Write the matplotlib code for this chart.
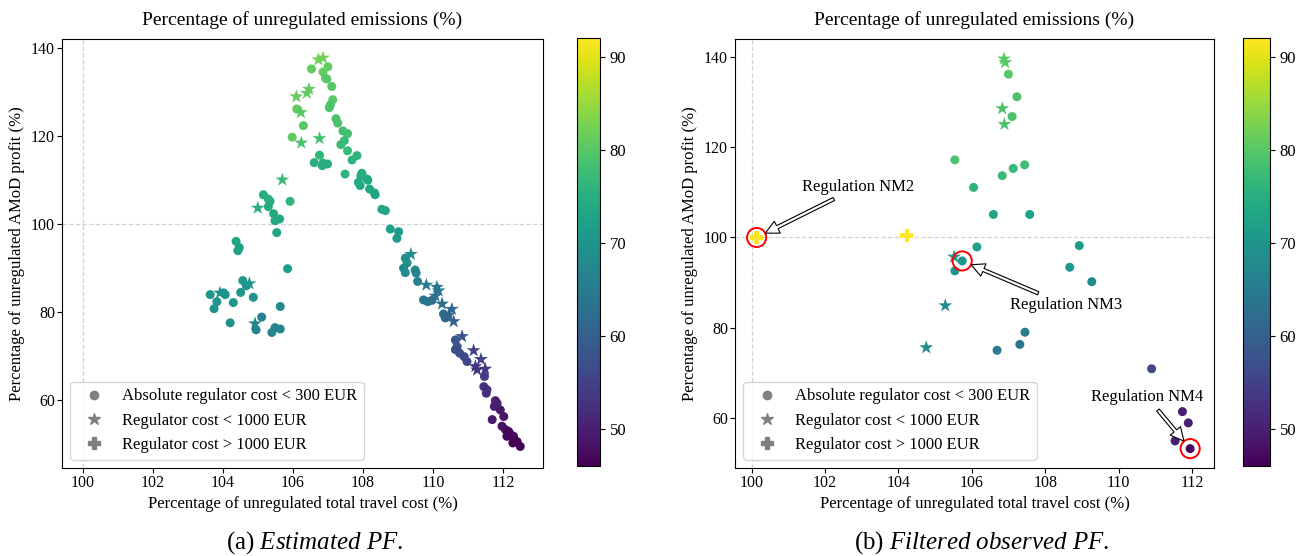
import matplotlib
matplotlib.use("Agg")
import matplotlib.pyplot as plt
from matplotlib.lines import Line2D
from matplotlib.colors import Normalize

plt.rcParams['font.family'] = ['Liberation Serif', 'DejaVu Serif']
plt.rcParams['mathtext.fontset'] = 'custom'
plt.rcParams['mathtext.rm'] = 'Liberation Serif'
plt.rcParams['mathtext.it'] = 'Liberation Serif:italic'

# ---- (a) estimated PF: cost %, profit %, emissions %
est_dot_x = [106.53, 107.0, 106.86, 106.93, 106.97, 107.11, 107.14, 107.07, 107.04, 106.11,
             107.23, 107.28, 106.3, 107.43, 107.56, 105.98, 107.47, 107.37, 107.56, 107.83,
             106.76, 107.69, 106.61, 106.86, 106.99, 106.84, 107.49, 107.97,
             107.94, 108.11, 108.14, 107.87, 107.92, 108.19, 108.33, 108.35, 108.54, 108.64,
             108.78, 109.02, 108.97, 109.21, 109.26, 109.16, 109.21, 109.49, 109.52, 109.56,
             109.73, 109.85, 109.97, 110.3, 110.35, 110.42,
             110.64, 110.69, 110.64, 110.76, 110.89, 110.97, 111.47, 111.45, 111.54, 111.52,
             111.78, 111.83, 111.75, 111.92, 112.02, 111.69, 111.97, 112.07, 112.16, 112.23,
             112.3, 112.11, 112.4, 112.28, 112.49,
             105.16, 105.30, 105.35, 105.30, 105.92, 105.45, 105.49, 105.62, 105.54, 104.38,
             104.47, 104.43, 105.85,
             104.57, 104.67, 104.51, 104.87, 103.64, 103.83, 103.75, 104.07, 104.02, 104.30,
             105.64, 105.11, 104.21, 104.95, 105.4, 105.49, 105.64]
est_dot_y = [135.2, 135.7, 134.5, 133.1, 132.9, 131.2, 128.2, 127.0, 126.4, 126.1,
             123.9, 122.9, 122.3, 121.1, 120.5, 119.7, 118.9, 118.0, 116.6, 115.5,
             115.6, 114.5, 113.9, 113.8, 113.6, 113.2, 111.3, 111.5,
             110.9, 110.2, 109.9, 109.4, 108.7, 107.9, 107.0, 106.6, 103.3, 103.0,
             98.8, 98.2, 96.7, 92.2, 91.1, 89.9, 88.9, 89.5, 88.8, 86.9,
             82.7, 82.3, 82.6, 79.5, 78.6, 78.9,
             73.6, 72.1, 71.4, 70.6, 69.8, 68.7, 65.3, 63.0, 62.3, 61.5,
             59.8, 59.2, 58.5, 57.7, 56.2, 55.5, 54.0, 53.2, 52.8, 52.0,
             51.7, 51.7, 50.5, 50.2, 49.4,
             106.6, 105.6, 105.1, 103.9, 105.1, 102.3, 100.7, 101.1, 98.0, 96.0,
             94.6, 93.9, 89.8,
             87.1, 85.9, 84.4, 83.3, 83.9, 82.3, 80.7, 83.9, 84.3, 82.1,
             81.2, 78.8, 77.5, 75.9, 75.3, 76.4, 76.1]
est_dot_c = [81, 81, 81, 80, 80, 80, 80, 79, 79, 81,
             79, 79, 80, 78, 78, 81, 77, 77, 77, 76,
             76, 76, 75, 75, 75, 75, 76, 75,
             75, 75, 74, 74, 74, 74, 73, 73, 73, 73,
             72, 71, 71, 69, 69, 68, 68, 68, 67, 66,
             64, 64, 63, 62, 62, 61,
             58, 58, 57, 57, 56, 56, 54, 53, 52, 52,
             50, 50, 50, 49, 49, 49, 48, 48, 47, 47,
             47, 47, 46, 46, 46,
             75, 75, 75, 74, 76, 74, 74, 74, 73, 73,
             72, 72, 71,
             71, 70, 70, 69, 70, 70, 70, 70, 70, 70,
             68, 67, 69, 67, 67, 67, 67]

est_star_x = [106.73, 106.86, 106.46, 106.4, 106.1, 106.23, 106.76, 106.24, 105.70, 105.0,
              104.76, 103.92, 104.92,
              109.37, 109.81, 110.11, 110.16, 110.07, 110.26, 110.54, 110.45, 110.59, 110.83,
              111.16, 111.37, 111.21, 111.26, 111.49]
est_star_y = [137.3, 137.7, 130.6, 129.7, 128.9, 125.3, 119.4, 118.4, 110.0, 103.6,
              86.4, 84.3, 77.3,
              93.1, 86.1, 85.6, 84.8, 83.6, 81.8, 80.6, 79.3, 77.8, 74.4,
              71.2, 69.2, 67.6, 66.8, 67.0]
est_star_c = [82, 82, 81, 81, 81, 80, 78, 79, 77, 75,
              70, 69, 67,
              68, 65, 64, 64, 63, 62, 61, 61, 60, 58,
              55, 55, 54, 53, 53]

# ---- (b) filtered observed PF
obs_dot_x = [107.0, 107.23, 107.1, 105.54, 107.44, 107.13, 106.83, 106.05, 106.59, 107.58,
             106.14, 108.93, 105.74, 105.54, 108.67, 109.27, 107.45, 107.31, 106.69, 110.9,
             111.74, 111.9, 111.54, 111.95]
obs_dot_y = [136.2, 131.2, 126.8, 117.2, 116.1, 115.3, 113.7, 111.1, 105.1, 105.1,
             97.9, 98.2, 94.8, 92.6, 93.4, 90.2, 79.0, 76.3, 75.0, 70.9,
             61.4, 58.9, 54.9, 53.2]
obs_dot_c = [80, 79, 79, 79, 78, 77, 77, 76, 73, 72,
             72, 71, 70, 70, 71, 68, 65, 64, 65, 56,
             50, 50, 50, 47]

obs_star_x = [106.88, 106.91, 106.83, 106.89, 105.52, 105.28, 104.76]
obs_star_y = [139.6, 138.8, 128.6, 125.1, 95.7, 84.9, 75.6]
obs_star_c = [80, 80, 79, 79, 69, 68, 68]

obs_plus_x = [104.23, 100.14]
obs_plus_y = [100.4, 100.0]
obs_plus_c = [92, 92]

# highlighted regulations: label, point, text position
reg_names = ['Regulation NM2', 'Regulation NM3', 'Regulation NM4']
reg_x = [100.14, 105.74, 111.95]
reg_y = [100.0, 94.8, 53.2]
reg_text_x = [102.9, 108.57, 110.78]
reg_text_y = [111.2, 85.0, 64.6]

W, H = 1297, 556
norm = Normalize(vmin=46, vmax=92)
cmap = 'viridis'

fig = plt.figure(figsize=(W / 100, H / 100), dpi=100)


def panel(ax, cax, dots, stars, pluses, xlim, ylim):
    sc = None
    for (x, y, c), marker, size in [(dots, 'o', 42), (stars, '*', 110), (pluses, 'P', 90)]:
        if not x:
            continue
        sc = ax.scatter(x, y, c=c, cmap=cmap, norm=norm, marker=marker, s=size,
                        linewidths=0, zorder=3)
    ax.axvline(100, color='lightgrey', ls='--', lw=0.9, zorder=1)
    ax.axhline(100, color='lightgrey', ls='--', lw=0.9, zorder=1)
    ax.set_xlim(*xlim)
    ax.set_ylim(*ylim)
    ax.set_xticks([100, 102, 104, 106, 108, 110, 112])
    ax.set_yticks([60, 80, 100, 120, 140])
    ax.tick_params(labelsize=11.5, pad=1.5)
    ax.set_xlabel('Percentage of unregulated total travel cost (%)', fontsize=12)
    ax.set_ylabel('Percentage of unregulated AMoD profit (%)', fontsize=12)
    ax.set_title('Percentage of unregulated emissions (%)', fontsize=14, pad=10)
    handles = [Line2D([], [], ls='', marker='o', color='grey', markersize=6),
               Line2D([], [], ls='', marker='*', color='grey', markersize=9),
               Line2D([], [], ls='', marker='P', color='grey', markersize=8)]
    ax.legend(handles, ['Absolute regulator cost < 300 EUR', 'Regulator cost < 1000 EUR',
                        'Regulator cost > 1000 EUR'], loc='lower left', fontsize=12,
              handletextpad=0.7)
    cb = fig.colorbar(sc, cax=cax)
    cb.set_ticks([50, 60, 70, 80, 90])
    cb.ax.tick_params(labelsize=12)


ax1 = fig.add_axes([62 / W, 1 - 468 / H, (543 - 62) / W, (468 - 39) / H])
cax1 = fig.add_axes([577 / W, 1 - 466 / H, 23 / W, (466 - 38) / H])
panel(ax1, cax1, (est_dot_x, est_dot_y, est_dot_c), (est_star_x, est_star_y, est_star_c),
      ([], [], []), (99.41, 113.14), (44.5, 142.0))

ax2 = fig.add_axes([735 / W, 1 - 468 / H, (1214 - 735) / W, (468 - 39) / H])
cax2 = fig.add_axes([1243 / W, 1 - 466 / H, 27 / W, (466 - 38) / H])
panel(ax2, cax2, (obs_dot_x, obs_dot_y, obs_dot_c), (obs_star_x, obs_star_y, obs_star_c),
      (obs_plus_x, obs_plus_y, obs_plus_c), (99.55, 112.6), (48.9, 144.0))

ax2.scatter(reg_x, reg_y, s=190, facecolors='none', edgecolors='red', linewidths=1.4, zorder=4)
for name, x, y, tx, ty in zip(reg_names, reg_x, reg_y, reg_text_x, reg_text_y):
    ax2.annotate(name, xy=(x, y), xytext=(tx, ty), ha='center', va='center', fontsize=12,
                 arrowprops=dict(arrowstyle='simple,head_length=0.8,head_width=0.8,tail_width=0.2',
                                 facecolor='white', edgecolor='black', lw=0.8,
                                 shrinkA=2, shrinkB=7),
                 zorder=5)

fig.text(315 / W, 1 - 543 / H, '(a) $\\mathit{Estimated\\ PF.}$', ha='center', va='center',
         fontsize=18)
fig.text(982 / W, 1 - 543 / H, '(b) $\\mathit{Filtered\\ observed\\ PF.}$', ha='center',
         va='center', fontsize=18)

fig.savefig('out.png', dpi=100)
